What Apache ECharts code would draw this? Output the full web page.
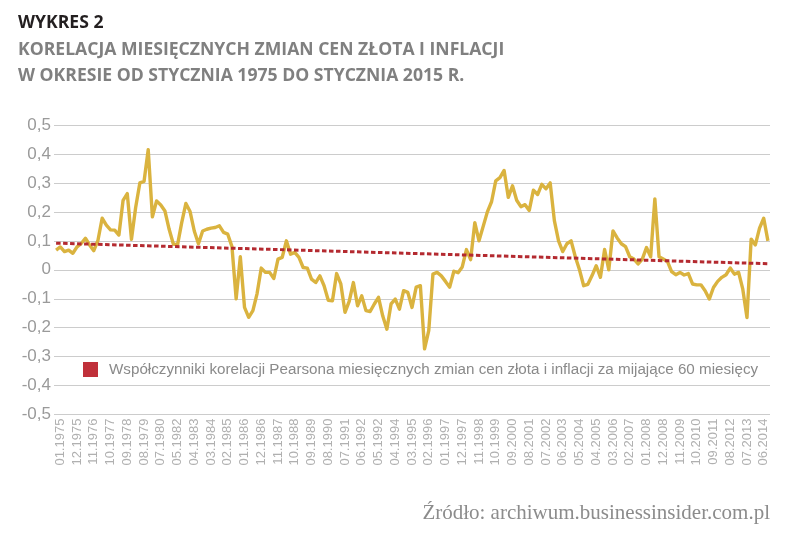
<!DOCTYPE html>
<html>
<head>
<meta charset="utf-8">
<script src="https://cdn.jsdelivr.net/npm/echarts@6/dist/echarts.min.js"></script>
<style>
html,body{margin:0;padding:0;background:#fff;}
#chart{width:800px;height:535px;}
</style>
</head>
<body>
<div id="chart"></div>
<script>
// Tick labels shown on the x axis (as printed in the reference)
var xTickLabels = ['01.1975','12.1975','11.1976','10.1977','09.1978','08.1979','07.1980','05.1982','04.1983','03.1984',
  '02.1985','01.1986','12.1986','11.1987','10.1988','09.1989','08.1990','07.1991','06.1992','05.1992',
  '04.1994','03.1995','02.1996','01.1997','12.1997','11.1998','10.1999','09.2000','08.2001','07.2002',
  '06.2003','05.2004','04.2005','03.2006','02.2007','01.2008','12.2008','11.2009','10.2010','09.2011',
  '08.2012','07.2013','06.2014'];

var corrValues = [
  0.068,0.079,0.063,0.068,0.057,0.079,0.091,0.109,0.086,0.066,
  0.102,0.178,0.154,0.138,0.137,0.12,0.24,0.263,0.105,0.215,
  0.3,0.305,0.415,0.183,0.238,0.224,0.203,0.14,0.089,0.086,
  0.163,0.229,0.201,0.134,0.09,0.134,0.14,0.144,0.146,0.152,
  0.129,0.123,0.08,
  -0.1,0.045,-0.13,-0.164,-0.141,-0.082,0.006,-0.009,-0.009,-0.03,
  0.037,0.043,0.1,0.054,0.06,0.043,0.008,0.006,-0.032,-0.044,
  -0.021,-0.055,-0.105,-0.107,-0.013,-0.049,-0.147,-0.109,-0.044,-0.124,
  -0.09,-0.141,-0.144,-0.118,-0.095,-0.159,-0.205,-0.118,-0.101,-0.136,
  -0.072,-0.078,-0.13,
  -0.06,-0.055,-0.273,-0.21,-0.015,-0.009,-0.021,-0.04,-0.06,-0.005,
  -0.01,0.01,0.07,0.035,0.163,0.1,0.15,0.2,0.235,0.307,
  0.318,0.343,0.25,0.29,0.24,0.218,0.225,0.205,0.275,0.26,
  0.295,0.28,0.3,0.17,0.1,0.063,0.09,0.1,0.045,0.0,
  -0.055,-0.05,-0.02,
  0.014,-0.026,0.07,0.0,0.134,0.11,0.09,0.08,0.045,0.037,
  0.02,0.037,0.077,0.045,0.245,0.045,0.037,0.029,-0.006,-0.017,
  -0.009,-0.018,-0.013,-0.049,-0.052,-0.052,-0.072,-0.101,-0.061,-0.04,
  -0.026,-0.017,0.006,-0.015,-0.009,-0.067,-0.165,0.106,0.086,0.144,
  0.178,0.1
];

// Linear trend: value at first and at last sample
var trendStart = 0.092;
var trendEnd = 0.021;

var legendName = 'Współczynniki korelacji Pearsona miesięcznych zmian cen złota i inflacji za mijające 60 miesięcy';
var titleLines = ['WYKRES 2', 'KORELACJA MIESIĘCZNYCH ZMIAN CEN ZŁOTA I INFLACJI', 'W OKRESIE OD STYCZNIA 1975 DO STYCZNIA 2015 R.'];
var sourceText = 'Źródło: archiwum.businessinsider.com.pl';

var LABEL_STEP = 4, LABEL_OFFSET = 1;
var categories = corrValues.map(function (v, i) {
  var k = (i - LABEL_OFFSET) / LABEL_STEP;
  return (k >= 0 && k % 1 === 0 && k < xTickLabels.length) ? xTickLabels[k] : ('p' + i);
});

var chart = echarts.init(document.getElementById('chart'), null, {renderer: 'canvas'});
var sans = '"Liberation Sans", Arial, sans-serif';
var titleStyle = {fontFamily: 'Open Sans', fontWeight: 'bold', fontSize: 17.6, lineHeight: 20};
var option = {
  animation: false,
  backgroundColor: '#ffffff',
  title: [
    {text: titleLines[0], left: 18, top: 13, padding: 0, textStyle: Object.assign({}, titleStyle, {color: '#231f20'})},
    {text: titleLines[1], left: 18, top: 40, padding: 0, textStyle: Object.assign({}, titleStyle, {color: '#808080'})},
    {text: titleLines[2], left: 18, top: 66, padding: 0, textStyle: Object.assign({}, titleStyle, {color: '#808080'})}
  ],
  legend: {
    left: 83, top: 362, padding: 0,
    itemWidth: 15, itemHeight: 15,
    icon: 'rect',
    data: [{name: legendName, icon: 'rect'}],
    textStyle: {fontFamily: sans, fontSize: 15.2, color: '#8a8a8a', padding: [0, 0, 0, 6]},
    selectedMode: false
  },
  grid: {left: 54, right: 30, top: 125, bottom: 120.4, containLabel: false},
  xAxis: {
    type: 'category',
    data: categories,
    boundaryGap: true,
    axisLine: {show: false},
    axisTick: {show: false},
    axisLabel: {
      rotate: 90,
      margin: 4,
      interval: function (index) {
        var k = (index - LABEL_OFFSET) / LABEL_STEP;
        return k >= 0 && k % 1 === 0 && k < xTickLabels.length;
      },
      fontFamily: sans, fontSize: 13, color: '#b0b0b0'
    },
    splitLine: {show: false}
  },
  yAxis: {
    type: 'value',
    min: -0.5, max: 0.5, interval: 0.1,
    axisLine: {show: false},
    axisTick: {show: false},
    axisLabel: {
      margin: 3,
      fontFamily: sans, fontSize: 17, color: '#9a9a9a',
      formatter: function (v) {
        var r = Math.round(v * 10) / 10;
        return r === 0 ? '0' : r.toFixed(1).replace('.', ',');
      }
    },
    splitLine: {show: true, lineStyle: {color: '#cccccc', width: 1.2}}
  },
  series: [
    {
      name: 'corr',
      type: 'line',
      data: corrValues,
      showSymbol: false,
      symbol: 'none',
      lineStyle: {color: '#dab33f', width: 3.4, join: 'round'},
      itemStyle: {color: '#dab33f'},
      z: 2
    },
    {
      name: legendName,
      type: 'line',
      data: [[0, trendStart], [corrValues.length - 1, trendEnd]],
      showSymbol: false,
      symbol: 'none',
      lineStyle: {color: '#b42a30', width: 3, type: [4.5, 2.5]},
      itemStyle: {color: '#c0303a'},
      z: 3
    }
  ],
  graphic: [
    {type: 'text', right: 30, top: 503, style: {text: sourceText, font: '21px "Liberation Serif", serif', fill: '#8c8c8c'}}
  ]
};
chart.setOption(option);
</script>
</body>
</html>
